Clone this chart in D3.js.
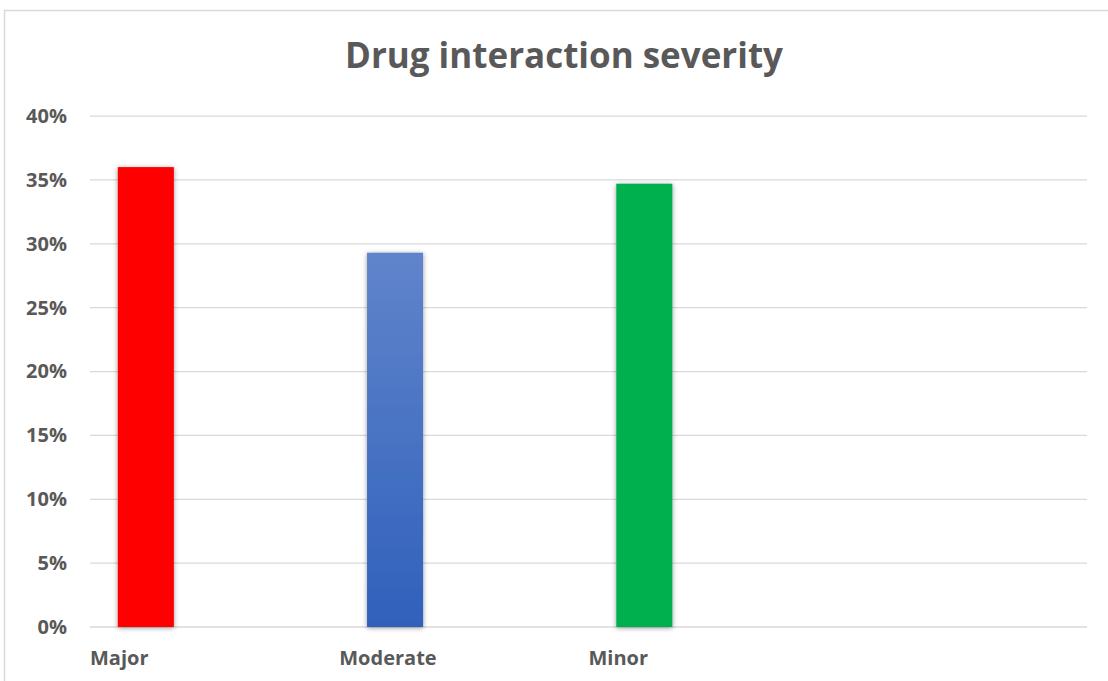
<!DOCTYPE html>
<html>
<head>
<meta charset="utf-8">
<script src="https://cdn.jsdelivr.net/npm/d3@7"></script>
<style>
  html, body { margin: 0; padding: 0; background: #ffffff; }
  svg { display: block; font-family: "Open Sans", "Noto Sans", sans-serif; }
</style>
</head>
<body>
<svg id="chart" width="1108" height="681"></svg>
<script>
// Share of drug interactions by severity level
const categories = ["Major", "Moderate", "Minor", ""];
const shares = [0.36, 0.293, 0.347, null];
const yTicks = [0, 0.05, 0.10, 0.15, 0.20, 0.25, 0.30, 0.35, 0.40];
const chartTitle = "Drug interaction severity";
const barFills = ["#FF0000", "url(#blueFade)", "#00B050", "none"];

const svg = d3.select("#chart");
const W = 1108, H = 681;

// outer chart frame
svg.append("rect")
  .attr("x", 4.5).attr("y", 10.5)
  .attr("width", W + 20).attr("height", H + 20)
  .attr("fill", "#ffffff")
  .attr("stroke", "#d9d9d9").attr("stroke-width", 1.5);

const defs = svg.append("defs");
const grad = defs.append("linearGradient")
  .attr("id", "blueFade").attr("x1", 0).attr("y1", 0).attr("x2", 0).attr("y2", 1);
grad.append("stop").attr("offset", "0%").attr("stop-color", "#6184CB");
grad.append("stop").attr("offset", "100%").attr("stop-color", "#2F61BB");

const shadow = defs.append("filter").attr("id", "barShadow")
  .attr("x", "-30%").attr("y", "-10%").attr("width", "160%").attr("height", "120%");
shadow.append("feDropShadow")
  .attr("dx", 0).attr("dy", 1).attr("stdDeviation", 2.5)
  .attr("flood-color", "#000000").attr("flood-opacity", 0.4);

const plot = { left: 90, right: 1087, top: 116, bottom: 627 };

const x = d3.scaleBand().domain(categories).range([plot.left, plot.right]).padding(0);
const y = d3.scaleLinear().domain([0, 0.40]).range([plot.bottom, plot.top]);

// horizontal gridlines
svg.append("g").selectAll("line")
  .data(yTicks)
  .join("line")
  .attr("x1", plot.left).attr("x2", plot.right)
  .attr("y1", d => y(d)).attr("y2", d => y(d))
  .attr("stroke", "#d9d9d9")
  .attr("stroke-width", d => d === 0 ? 1.6 : 1.25);

// y axis labels
const yAxis = d3.axisLeft(y).tickValues(yTicks).tickFormat(d3.format(".0%")).tickSize(0).tickPadding(0);
const yg = svg.append("g").attr("transform", "translate(67,0)").call(yAxis);
yg.select(".domain").remove();
yg.selectAll("text")
  .attr("font-family", "'Open Sans', sans-serif")
  .attr("font-size", 20).attr("font-weight", 700)
  .attr("fill", "#595959");

// bars
const barOffset = 0.1115, barWidth = 0.225;
svg.append("g").selectAll("rect")
  .data(categories.map((c, i) => ({ c, v: shares[i], fill: barFills[i] })).filter(d => d.v != null))
  .join("rect")
  .attr("x", d => x(d.c) + x.bandwidth() * barOffset)
  .attr("width", x.bandwidth() * barWidth)
  .attr("y", d => y(d.v))
  .attr("height", d => y(0) - y(d.v))
  .attr("fill", d => d.fill)
  .attr("filter", "url(#barShadow)");

// category labels, left aligned in each band
const xAxis = d3.axisBottom(x).tickSize(0).tickPadding(0);
const xg = svg.append("g").attr("transform", `translate(0,${plot.bottom})`).call(xAxis);
xg.select(".domain").remove();
xg.selectAll(".tick").attr("transform", d => `translate(${x(d)},0)`);
xg.selectAll("text")
  .attr("text-anchor", "start")
  .attr("x", 0).attr("y", 38).attr("dy", 0)
  .attr("font-family", "'Open Sans', sans-serif")
  .attr("font-size", 20).attr("font-weight", 700)
  .attr("fill", "#595959");

// title
svg.append("text")
  .attr("x", 564).attr("y", 68)
  .attr("text-anchor", "middle")
  .attr("font-size", 35).attr("font-weight", 700)
  .attr("fill", "#595959")
  .attr("textLength", 438).attr("lengthAdjust", "spacingAndGlyphs")
  .text(chartTitle);
</script>
</body>
</html>
